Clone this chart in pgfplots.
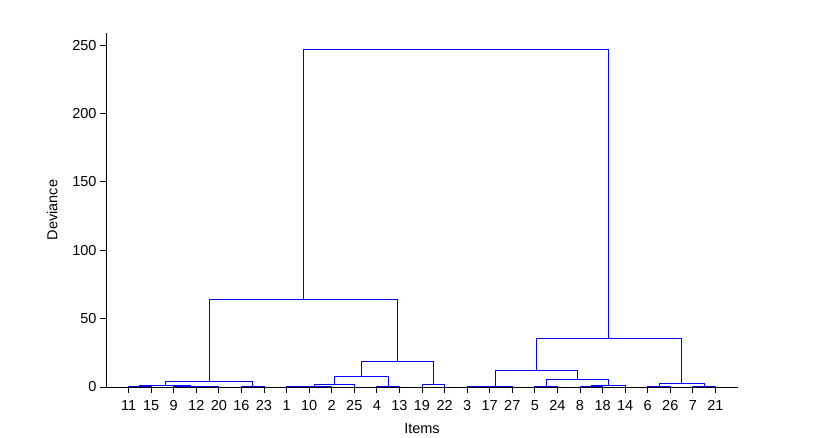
\documentclass[border=0pt]{standalone}
\usepackage{fontspec}
\setmainfont{Liberation Sans}
\usepackage{pgfplots}
\pgfplotsset{compat=1.18}
\begin{document}
\begin{tikzpicture}[x=1pt,y=1pt]
\begin{axis}[
  at={(0pt,0pt)}, anchor=origin,
  scale only axis, width=632pt, height=354pt,
  xmin=0, xmax=28, ymin=0, ymax=258.8,
  axis x line*=bottom, axis y line*=left,
  tick align=outside, major tick length=6pt,
  xtick={1,...,27},
  xticklabels={11,15,9,12,20,16,23,1,10,2,25,4,13,19,22,3,17,27,5,24,8,18,14,6,26,7,21},
  ytick={0,50,100,150,200,250},
  /pgf/number format/assume math mode=true,
  ticklabel style={font=\fontsize{14.5}{17}\selectfont},
  xticklabel style={yshift=-4pt},
  label style={font=\fontsize{14.5}{17}\selectfont},
  xlabel={Items}, ylabel={Deviance},
  xlabel style={yshift=-6pt},
  ylabel style={yshift=8pt},
  axis line style={line width=0.8pt},
  every tick/.style={black, line width=0.8pt},
  clip=false,
  dend/.style={blue, no markers, solid, line width=0.9pt},
]
% left cluster
\addplot[dend] coordinates {(1,0) (1,0.5) (2,0.5) (2,0)};
\addplot[dend] coordinates {(4,0) (4,0.3) (5,0.3) (5,0)};
\addplot[dend] coordinates {(3,0) (3,0.7) (4.5,0.7) (4.5,0.3)};
\addplot[dend] coordinates {(1.5,0.5) (1.5,1.3) (3.75,1.3) (3.75,0.7)};
\addplot[dend] coordinates {(6,0) (6,0.6) (7,0.6) (7,0)};
\addplot[dend] coordinates {(2.625,1.3) (2.625,3.9) (6.5,3.9) (6.5,0.6)};
% middle cluster
\addplot[dend] coordinates {(8,0) (8,0.3) (9,0.3) (9,0)};
\addplot[dend] coordinates {(8.5,0.3) (8.5,0.6) (10,0.6) (10,0)};
\addplot[dend] coordinates {(9.25,0.6) (9.25,1.7) (11,1.7) (11,0)};
\addplot[dend] coordinates {(12,0) (12,0.7) (13,0.7) (13,0)};
\addplot[dend] coordinates {(10.125,1.7) (10.125,8.0) (12.5,8.0) (12.5,0.7)};
\addplot[dend] coordinates {(14,0) (14,1.5) (15,1.5) (15,0)};
\addplot[dend] coordinates {(11.3125,8.0) (11.3125,18.5) (14.5,18.5) (14.5,1.5)};
\addplot[dend] coordinates {(4.5625,3.9) (4.5625,64.3) (12.90625,64.3) (12.90625,18.5)};
% right cluster
\addplot[dend] coordinates {(16,0) (16,0.3) (17,0.3) (17,0)};
\addplot[dend] coordinates {(16.5,0.3) (16.5,0.6) (18,0.6) (18,0)};
\addplot[dend] coordinates {(19,0) (19,0.3) (20,0.3) (20,0)};
\addplot[dend] coordinates {(21,0) (21,0.3) (22,0.3) (22,0)};
\addplot[dend] coordinates {(21.5,0.3) (21.5,0.8) (23,0.8) (23,0)};
\addplot[dend] coordinates {(19.5,0.3) (19.5,5.3) (22.25,5.3) (22.25,0.8)};
\addplot[dend] coordinates {(17.25,0.6) (17.25,11.9) (20.875,11.9) (20.875,5.3)};
\addplot[dend] coordinates {(24,0) (24,0.4) (25,0.4) (25,0)};
\addplot[dend] coordinates {(26,0) (26,0.5) (27,0.5) (27,0)};
\addplot[dend] coordinates {(24.5,0.4) (24.5,2.7) (26.5,2.7) (26.5,0.5)};
\addplot[dend] coordinates {(19.0625,11.9) (19.0625,35.6) (25.5,35.6) (25.5,2.7)};
% root
\addplot[dend] coordinates {(8.734375,64.3) (8.734375,247) (22.28125,247) (22.28125,35.6)};
\end{axis}
\path[use as bounding box] (-106pt,-49pt) rectangle (711pt,387pt);
\end{tikzpicture}
\end{document}
